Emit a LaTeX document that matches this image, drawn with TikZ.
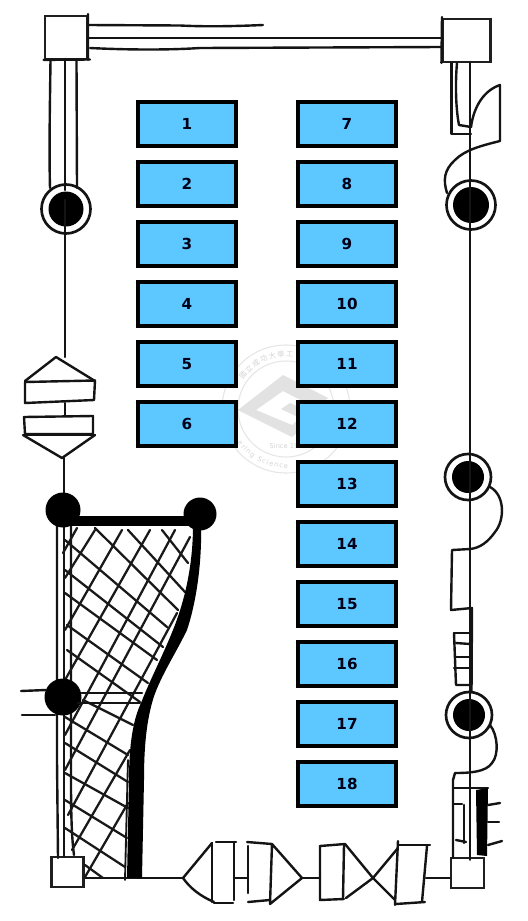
\documentclass[tikz,border=0pt]{standalone}
\usepackage{fontspec}
\setmainfont{DejaVu Sans}
\newfontfamily\cjkwm{Noto Sans CJK TC}
\usetikzlibrary{decorations.text}
\definecolor{boxblue}{HTML}{5CC8FF}
\definecolor{wmline}{HTML}{E6E6E6}
\definecolor{wmfill}{HTML}{E2E2E2}
\definecolor{wmtext}{HTML}{D4D4D4}
\tikzset{
  numbox/.style={draw=black,line width=3.2pt,fill=boxblue,minimum width=73.6pt,minimum height=33pt,inner sep=0pt,font=\fontsize{11.4pt}{13pt}\selectfont\bfseries,text=black!90!blue},
  ink/.style={line width=1.8pt,line cap=round,line join=round,black!92},
  thin ink/.style={line width=1.4pt,line cap=round,line join=round,black!92},
  hatch/.style={line width=1.7pt,line cap=round,line join=round,black!90},
  plain/.style={draw=black!88,line width=1.6pt,minimum width=#1,minimum height=#1,inner sep=0pt,fill=white},
  ring/.style={draw=black!92,line width=2pt,circle,inner sep=0pt,minimum size=#1,fill=white},
  blob/.style={fill=black,circle,inner sep=0pt,minimum size=#1},
}
\begin{document}
\begin{tikzpicture}[x=0.75pt,y=-0.75pt]
\useasboundingbox (0,0) rectangle (528,921);
\fill[white] (0,0) rectangle (528,921);

% watermark
\coordinate (wm) at (286,409);
\draw[wmline,line width=.8pt] (wm) circle[radius=64];
\draw[wmline,line width=.8pt] (wm) circle[radius=48];
\fill[wmfill] (283,375) -- (328,398) -- (316,408) -- (283,391) -- (256,410) -- (292,425) -- (300,418) -- (281,409) -- (290,403) -- (318,415) -- (292,437) -- (238,410) -- cycle;
\path[postaction={decorate,decoration={text along path,text align={fit to path},text={|\cjkwm\fontsize{5.4pt}{7pt}\selectfont\color{wmtext}|國立成功大學工}}}] (wm) ++(214:52) arc[start angle=214,end angle=278,radius=52];
\path[postaction={decorate,decoration={text along path,text align={fit to path},text={|\fontsize{5pt}{7pt}\selectfont\color{wmtext}|ering Science}}}] (wm) ++(145:59) arc[start angle=145,end angle=88,radius=59];
\node[text=wmtext,font=\fontsize{5pt}{6pt}\selectfont,inner sep=0pt] (wmsince) at (284,446) {Since 19};

% numbered boxes
\foreach \n/\yy in {1/124,2/184,3/244,4/304,5/364,6/424}
  \node[numbox] (b\n) at (187,\yy) {\n};
\foreach \n/\yy in {7/124,8/184,9/244,10/304,11/364,12/424,13/484,14/544,15/604,16/664,17/724,18/784}
  \node[numbox] (b\n) at (347,\yy) {\n};

% corner squares
\node[plain=32pt,minimum height=32pt] (sqTL) at (66,37.5) {};
\node[plain=36pt,minimum height=32pt] (sqTR) at (466.5,40.5) {};
\node[plain=24pt,minimum height=22.5pt] (sqBL) at (67.5,872) {};
\node[plain=25pt,minimum height=23pt] (sqBR) at (467.5,873) {};
\draw[ink] (88,14) -- (88,60) (sqTL.south west) -- (90,59.5);
\draw[ink] (442,17) -- (sqTR.south west);

% top rails
\draw[ink] (88,25) -- (180,25.5) .. controls (210,27) and (240,26) .. (263,25);
\draw[ink] (sqTL.east |- 0,38) -- (sqTR.west |- 0,38);
\draw[ink] (90,48) .. controls (130,50) and (170,50) .. (200,48) -- (sqTR.west |- 0,47);

% rings and blobs
\node[ring=49*0.75pt] (r1) at (66,209) {};
\node[blob=35*0.75pt] (k1) at (66,209) {};
\node[ring=49*0.75pt] (r2) at (471,205) {};
\node[blob=36*0.75pt] (k2) at (471,205) {};
\node[ring=46*0.75pt] (r3) at (468,477) {};
\node[blob=32*0.75pt] (k3) at (468,477) {};
\node[ring=46*0.75pt] (r4) at (469,715) {};
\node[blob=32*0.75pt] (k4) at (469,715) {};

% top-left column
\draw[ink] (50.5,60) .. controls (50,100) and (49,150) .. (50,188);
\draw[ink] (76.5,60) -- (77,188);
\draw[ink] (65,59) -- (65,190);
\draw[ink] (65,200) -- (65,357);

% left valve
\coordinate (vt) at (56,357);
\coordinate (vb) at (62,458);
\draw[ink] (25,381) -- (vt) -- (95,381);
\draw[ink] (25,382) -- (95,380.5) -- (94,400) -- (25,403) -- cycle;
\draw[ink] (65,403) -- (65,416);
\draw[ink] (24,417) -- (93,416) -- (93,434) -- (25,434) -- cycle;
\draw[ink] (23,435) -- (vb) -- (95,435);
\draw[ink] (24,435) -- (95,435);
\draw[ink] (64,458) -- (64,496);

% right column
\draw[thin ink] (sqTR.south -| 470,0) -- (470,860);
\draw[ink] (451.5,63) -- (451.5,134) -- (471,134);
\draw[ink] (457,63) .. controls (455,85) and (456,110) .. (459,125) -- (471,127);
\draw[ink] (471,127) .. controls (474,105) and (485,90) .. (500,85) -- (500,141) .. controls (480,146) and (465,150) .. (455,160) .. controls (444,170) and (443,180) .. (447,193);
\draw[ink] (490,487) .. controls (505,495) and (505,520) .. (495,532) .. controls (488,542) and (480,548) .. (470,549) -- (452,550) -- (451,610) -- (472,608) -- (471.5,692);
\draw[ink] (454,633) -- (471,633);
\draw[ink] (454,633) -- (456,685) -- (471,685);
\draw[ink] (456,643) -- (470,644);
\draw[ink] (456,657) -- (471,657);
\draw[ink] (454,668) -- (471,668);
\draw[ink] (490,725) .. controls (498,735) and (499,755) .. (492,763) .. controls (486,772) and (470,773) .. (455,773) -- (453,780) -- (453,858);
\draw[ink] (453,788) -- (488,788);
\fill[black] (476,790) -- (488,788) -- (487,856) -- (477,855) -- cycle;
\draw[ink] (488,805) -- (500,803);
\draw[ink] (488,822) -- (499,822);
\draw[ink] (488,845) -- (502,841);
\draw[ink] (454,804) -- (462,804);
\draw[ink] (464,805) -- (464,843);
\draw[ink] (456,840) -- (466,842);
\draw[ink] (426,878) -- (sqBR.west |- 0,878);

% bottom valves
\draw[ink] (sqBL.east |- 0,878) -- (183,878);
\draw[ink] (212,843) -- (183,878) .. controls (190,888) and (200,896) .. (214,902);
\draw[ink] (212,843) -- (212,902);
\draw[ink] (216,842) -- (236,842);
\draw[ink] (234,842) -- (234,900);
\draw[ink] (214,903) -- (233,903);
\draw[ink] (234,878) -- (248,878);
\draw[ink] (248,846) -- (248,893);
\draw[ink] (247,842) -- (272,844) -- (302,878) -- (270,904) -- (272,844);
\draw[ink] (248,902) -- (270,900);
\draw[ink] (302,878) -- (320,878);
\draw[ink] (320,846) -- (345,844) -- (373,878) -- (346,898);
\draw[ink] (320,846) -- (320,900) -- (344,899);
\draw[ink] (344,845) -- (343,899);
\draw[ink] (398,848) -- (373,878) -- (395,900);
\draw[ink] (398,841) -- (395,905);
\draw[ink] (398,845) -- (430,845);
\draw[ink] (427,846) -- (422,902);
\draw[ink] (396,904) -- (425,902);

% left tower lines
\draw[ink] (57,525) -- (57,760) -- (58,858);
\draw[thin ink] (64,520) -- (64,857);
\draw[ink] (71,525) -- (71,780) .. controls (71,820) and (72,840) .. (74,855);

% hatch, down-right
\foreach \ax/\ay/\bx/\by in {
  95/528/178/610,
  128/530/185/592,
  162/530/188/563,
  65/540/167/627,
  65/570/163/647,
  65/593/157/660,
  67/625/148/683,
  67/650/140/702,
  83/700/133/725,
  65/717/128/755,
  65/743/128/782,
  65/773/128/808,
  65/800/127/838,
  65/828/125/867,
  85/865/103/878}
  \draw[hatch] (\ax,\ay) -- (\bx,\by);
% hatch, down-left
\foreach \ax/\ay/\bx/\by in {
  77/528/63/553,
  95/530/65/578,
  122/530/65/630,
  150/530/65/680,
  175/530/65/735,
  190/537/65/770,
  177/613/68/815,
  130/750/72/850,
  128/803/85/877}
  \draw[hatch] (\ax,\ay) -- (\bx,\by);
\draw[thin ink] (128,760) -- (125,880);

% heavy frame
\node[blob=35*0.75pt] (k5) at (63,510) {};
\node[blob=33*0.75pt] (k6) at (200,514) {};
\node[blob=37*0.75pt] (k7) at (63,697) {};
\draw[line width=7pt,black] (63,521) -- (200,521);
\fill[black] (192,525) -- (201,525) .. controls (202,560) and (197,600) .. (187,630) .. controls (175,655) and (158,680) .. (152,703) .. controls (146,725) and (144,750) .. (144,780) -- (142,878) -- (127,878) -- (129,780) .. controls (129,745) and (133,720) .. (141,703) .. controls (150,680) and (163,655) .. (173,630) .. controls (185,600) and (193,565) .. (193,525) -- cycle;
\draw[ink] (21,691) -- (46,690);
\draw[ink] (22,715) -- (55,715);
\draw[ink] (k7.east |- 0,693) -- (142,693);
\draw[ink] (78,703) -- (140,703);
\end{tikzpicture}
\end{document}
